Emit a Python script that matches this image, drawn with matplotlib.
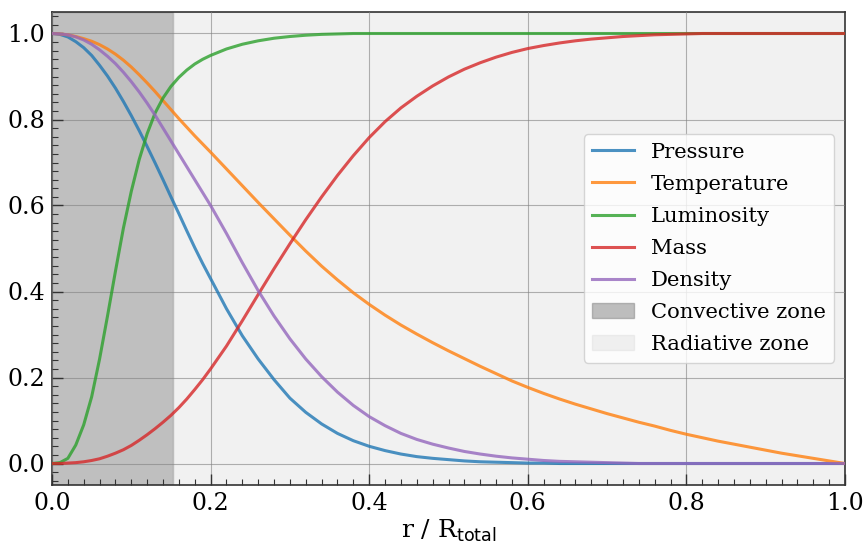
import matplotlib
matplotlib.use("Agg")
import matplotlib.pyplot as plt
from matplotlib.ticker import MultipleLocator

plt.rcParams['font.family'] = ['DejaVu Serif']
plt.rcParams['mathtext.fontset'] = 'dejavusans'

# radius (fraction of total radius)
r = [0.00, 0.01, 0.02, 0.03, 0.04, 0.05, 0.06, 0.07, 0.08, 0.09,
     0.10, 0.11, 0.12, 0.13, 0.14, 0.15, 0.16, 0.17, 0.18, 0.19,
     0.20, 0.22, 0.24, 0.26, 0.28, 0.30, 0.32, 0.34, 0.36, 0.38,
     0.40, 0.42, 0.44, 0.46, 0.48, 0.50, 0.52, 0.54, 0.56, 0.58,
     0.60, 0.62, 0.64, 0.66, 0.68, 0.70, 0.72, 0.74, 0.76, 0.78,
     0.80, 0.82, 0.84, 0.86, 0.88, 0.90, 0.92, 0.94, 0.96, 0.98, 1.00]

pressure = [1.000, 0.998, 0.992, 0.981, 0.967, 0.949, 0.926, 0.901, 0.873, 0.842,
            0.809, 0.774, 0.737, 0.699, 0.660, 0.620, 0.581, 0.541, 0.502, 0.465,
            0.430, 0.360, 0.297, 0.243, 0.195, 0.152, 0.119, 0.092, 0.070, 0.053,
            0.040, 0.030, 0.022, 0.016, 0.012, 0.009, 0.006, 0.004, 0.003, 0.002,
            0.001, 0.001, 0.000, 0.000, 0.000, 0.000, 0.000, 0.000, 0.000, 0.000,
            0.000, 0.000, 0.000, 0.000, 0.000, 0.000, 0.000, 0.000, 0.000, 0.000, 0.000]

temperature = [1.000, 0.999, 0.997, 0.993, 0.988, 0.982, 0.974, 0.964, 0.952, 0.938,
               0.922, 0.904, 0.885, 0.865, 0.844, 0.823, 0.802, 0.782, 0.762, 0.743,
               0.724, 0.685, 0.646, 0.607, 0.569, 0.531, 0.494, 0.459, 0.427, 0.397,
               0.370, 0.345, 0.322, 0.301, 0.281, 0.262, 0.244, 0.226, 0.209, 0.192,
               0.177, 0.163, 0.150, 0.138, 0.127, 0.116, 0.106, 0.096, 0.087, 0.077,
               0.068, 0.060, 0.052, 0.045, 0.038, 0.031, 0.024, 0.018, 0.012, 0.006, 0.000]

luminosity = [0.000, 0.002, 0.012, 0.043, 0.090, 0.155, 0.243, 0.343, 0.447, 0.547,
              0.633, 0.707, 0.767, 0.815, 0.850, 0.877, 0.898, 0.915, 0.929, 0.940,
              0.949, 0.964, 0.975, 0.983, 0.989, 0.993, 0.996, 0.998, 0.999, 1.000,
              1.000, 1.000, 1.000, 1.000, 1.000, 1.000, 1.000, 1.000, 1.000, 1.000,
              1.000, 1.000, 1.000, 1.000, 1.000, 1.000, 1.000, 1.000, 1.000, 1.000,
              1.000, 1.000, 1.000, 1.000, 1.000, 1.000, 1.000, 1.000, 1.000, 1.000, 1.000]

mass = [0.000, 0.000, 0.001, 0.002, 0.004, 0.007, 0.011, 0.017, 0.024, 0.032,
        0.042, 0.054, 0.067, 0.081, 0.096, 0.112, 0.130, 0.150, 0.172, 0.195,
        0.220, 0.273, 0.332, 0.393, 0.453, 0.511, 0.567, 0.620, 0.670, 0.716,
        0.758, 0.795, 0.827, 0.854, 0.878, 0.899, 0.917, 0.932, 0.945, 0.956,
        0.965, 0.972, 0.978, 0.983, 0.987, 0.990, 0.993, 0.995, 0.997, 0.998,
        0.999, 1.000, 1.000, 1.000, 1.000, 1.000, 1.000, 1.000, 1.000, 1.000, 1.000]

density = [1.000, 0.999, 0.997, 0.992, 0.985, 0.975, 0.962, 0.947, 0.930, 0.910,
           0.888, 0.864, 0.838, 0.810, 0.780, 0.750, 0.720, 0.690, 0.660, 0.630,
           0.600, 0.535, 0.467, 0.402, 0.343, 0.290, 0.243, 0.202, 0.166, 0.135,
           0.109, 0.088, 0.070, 0.056, 0.045, 0.036, 0.028, 0.022, 0.017, 0.013,
           0.010, 0.007, 0.005, 0.004, 0.003, 0.002, 0.001, 0.000, 0.000, 0.000,
           0.000, 0.000, 0.000, 0.000, 0.000, 0.000, 0.000, 0.000, 0.000, 0.000, 0.000]

series_labels = ["Pressure", "Temperature", "Luminosity", "Mass", "Density"]
series_colors = ["tab:blue", "tab:orange", "tab:green", "tab:red", "tab:purple"]
convective_edge = 0.153

fig = plt.figure(figsize=(8.66, 5.45), dpi=100)
ax = fig.add_axes([52/866, 1 - 485/545, (845 - 52)/866, (485 - 12)/545])

ax.axvspan(0, convective_edge, color='gray', alpha=0.5, label='Convective zone', zorder=0)
ax.axvspan(convective_edge, 1.0, color='lightgray', alpha=0.3, label='Radiative zone', zorder=0)

for vals, lab, col in zip([pressure, temperature, luminosity, mass, density],
                          series_labels, series_colors):
    ax.plot(r, vals, color=col, lw=2.2, alpha=0.8, label=lab, zorder=3,
            solid_joinstyle='round')

handles, labels = ax.get_legend_handles_labels()
order = [2, 3, 4, 5, 6, 0, 1]
ax.legend([handles[i] for i in order], [labels[i] for i in order],
          loc='center right', fontsize=15.2, labelspacing=0.62)

ax.set_xlim(0, 1)
ax.set_ylim(-0.05, 1.05)
ax.xaxis.set_major_locator(MultipleLocator(0.2))
ax.yaxis.set_major_locator(MultipleLocator(0.2))
ax.xaxis.set_minor_locator(MultipleLocator(0.02))
ax.yaxis.set_minor_locator(MultipleLocator(0.02))
ax.tick_params(which='both', direction='in', labelsize=17, colors='#333333', labelcolor='black')
ax.tick_params(which='major', length=8, width=1.0, pad=5)
ax.tick_params(which='minor', length=4, width=0.8)
ax.grid(True, which='major', color='gray', alpha=0.6, lw=0.8, zorder=1)
ax.set_axisbelow(False)
for s in ax.spines.values():
    s.set_color('#333333')
    s.set_linewidth(1.2)

ax.set_xlabel(r'r / R$_{\rm total}$', fontsize=18, labelpad=2)

fig.savefig('out.png', dpi=100)
